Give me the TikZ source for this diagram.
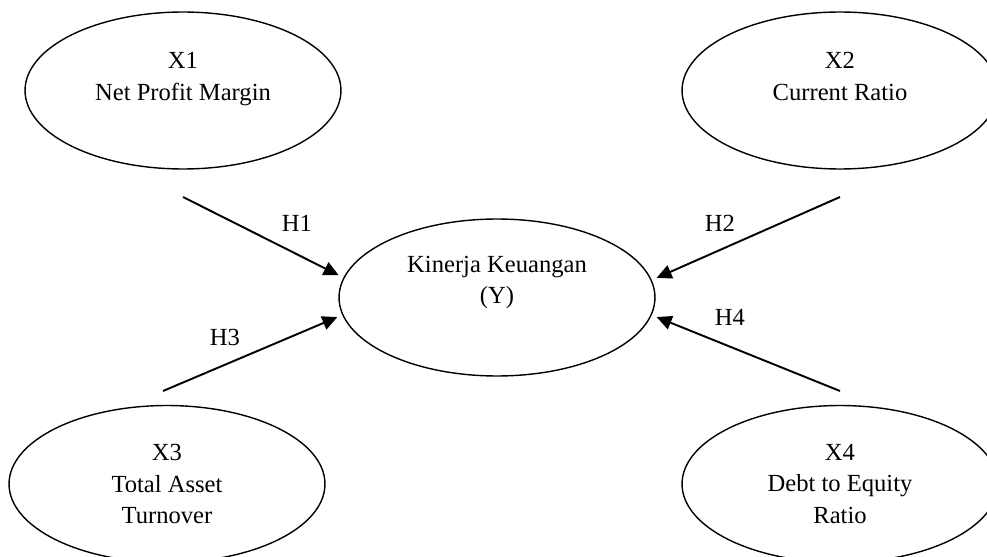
\documentclass[tikz,border=0pt]{standalone}
\usepackage{fontspec}
\setmainfont{Liberation Serif}
\usetikzlibrary{arrows.meta,shapes.geometric}

\tikzset{
  var/.style={draw, ellipse, line width=0.8pt, inner sep=0pt,
    minimum width=6.32cm, minimum height=3.14cm, align=center,
    font=\fontsize{14}{18}\selectfont},
  hyp/.style={line width=1.1pt, -{Triangle[length=0.3cm,width=0.28cm]}},
  hlab/.style={font=\fontsize{14}{18}\selectfont}
}

\begin{document}
\begin{tikzpicture}[x=0.02cm,y=-0.02cm]
            \useasboundingbox (0,0) rectangle (987,557);
            \clip (0,0) rectangle (987,557);

            \coordinate (h1) at (183,197);
            \coordinate (h2) at (840,197);
            \coordinate (h3) at (163,391);
            \coordinate (h4) at (840,391);

            \node[var, text depth=16pt] (X1) at (183,90.5) {X1\\Net Profit Margin};
            \node[var, text depth=16pt] (X2) at (840,90.5) {X2\\Current Ratio};
            \node[var, text depth=20pt, outer sep=3.5pt] (Y) at (497,297.5) {Kinerja Keuangan\\(Y)};
            \node[var] (X3) at (167,484) {X3\\Total Asset\\Turnover};
            \node[var] (X4) at (840,484) {X4\\Debt to Equity\\Ratio};

            \draw[hyp] (h1) -- (Y.172.6);
            \draw[hyp] (h2) -- (Y.7.4);
            \draw[hyp] (h3) -- (Y.187.4);
            \draw[hyp] (h4) -- (Y.-7.4);

            \node[hlab] (H1) at (297,223) {H1};
            \node[hlab] (H2) at (720,223) {H2};
            \node[hlab] (H3) at (225,337) {H3};
            \node[hlab] (H4) at (730,317) {H4};
        \end{tikzpicture}
\end{document}
